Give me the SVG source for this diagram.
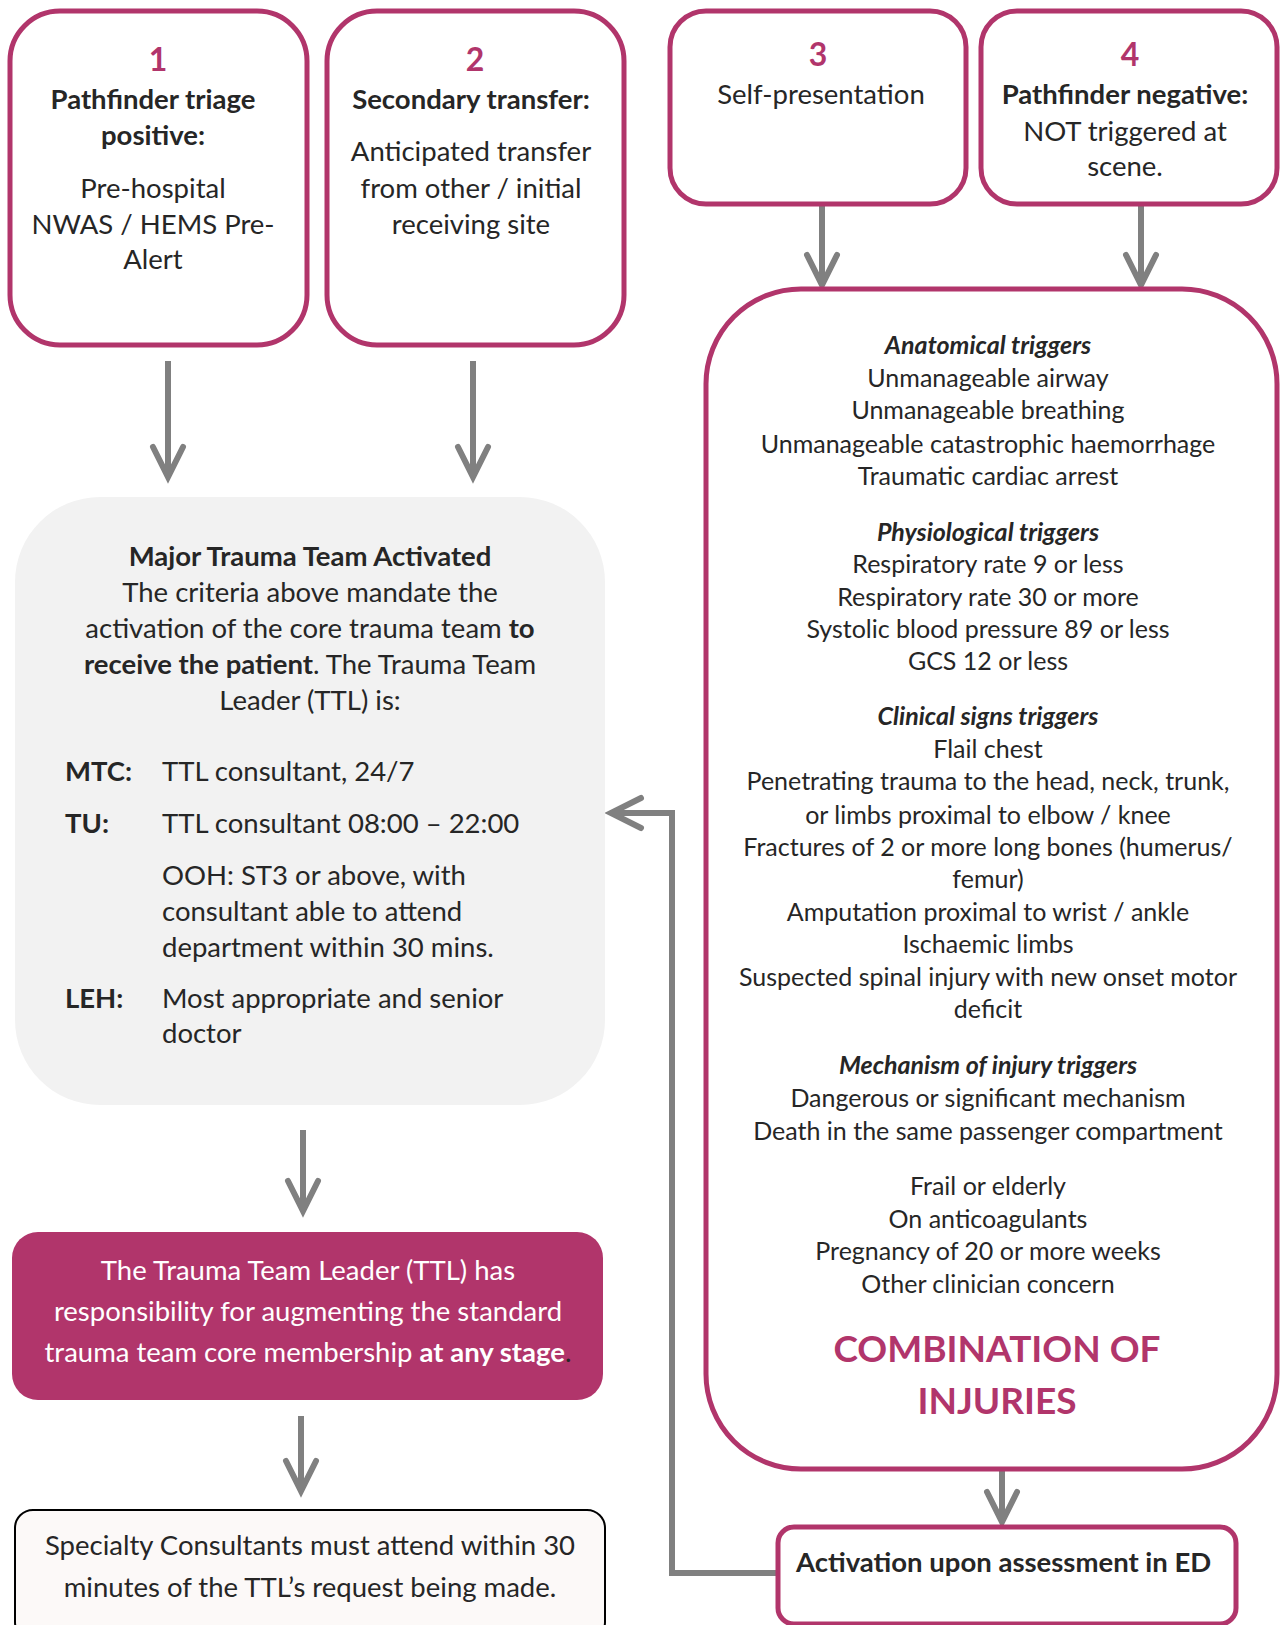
<svg xmlns="http://www.w3.org/2000/svg" width="1282" height="1625" viewBox="0 0 1282 1625">
<style>
text{font-family:Lato,"Liberation Sans",sans-serif;fill:#262626;font-size:27.5px;}
.c{text-anchor:middle;}
.b{font-weight:bold;}
.bi{font-weight:bold;font-style:italic;}
.t{font-size:25px;}
.num{font-size:32px;font-weight:bold;fill:#B1356B;}
.mag{fill:#fff;stroke:#B1356B;stroke-width:5;}
.conn{fill:none;stroke:#808080;stroke-width:6;}
.w{fill:#fff;}
.big{font-size:37px;font-weight:bold;fill:#B1356B;}
</style>
<defs>
<marker id="chev" markerUnits="userSpaceOnUse" viewBox="-40 -25 50 50" markerWidth="50" markerHeight="50" refX="0" refY="0" orient="auto" overflow="visible">
<path d="M-30,-15 L0,0 L-30,15" fill="none" stroke="#808080" stroke-width="6" stroke-linecap="round" stroke-linejoin="miter"/>
</marker>
</defs>

<g id="connectors">
<path class="conn" d="M168,361 V477" marker-end="url(#chev)"/>
<path class="conn" d="M473,361 V477" marker-end="url(#chev)"/>
<path class="conn" d="M822,204 V285" marker-end="url(#chev)"/>
<path class="conn" d="M1141,204 V285" marker-end="url(#chev)"/>
<path class="conn" d="M1002,1470 V1522" marker-end="url(#chev)"/>
<path class="conn" d="M303,1130 V1211" marker-end="url(#chev)"/>
<path class="conn" d="M301,1416 V1491" marker-end="url(#chev)"/>
<path class="conn" d="M777,1573 H672 V813 H611" marker-end="url(#chev)"/>
</g>

<g id="node1">
<rect class="mag" x="10" y="11" width="297" height="334" rx="50"/>
<text class="num c" x="158" y="71">1</text>
<text class="b c" x="153" y="109">Pathfinder triage</text>
<text class="b c" x="153" y="145">positive:</text>
<text class="c" x="153" y="198">Pre-hospital</text>
<text class="c" x="153" y="234">NWAS / HEMS Pre-</text>
<text class="c" x="153" y="269">Alert</text>
</g>

<g id="node2">
<rect class="mag" x="327" y="11" width="297" height="334" rx="50"/>
<text class="num c" x="475" y="71">2</text>
<text class="b c" x="471" y="109">Secondary transfer:</text>
<text class="c" x="471" y="161">Anticipated transfer</text>
<text class="c" x="471" y="198">from other / initial</text>
<text class="c" x="471" y="234">receiving site</text>
</g>

<g id="node3">
<rect class="mag" x="670" y="11" width="296" height="193" rx="36"/>
<text class="num c" x="818" y="66">3</text>
<text class="c" x="821" y="104">Self-presentation</text>
</g>

<g id="node4">
<rect class="mag" x="981" y="11" width="296" height="193" rx="36"/>
<text class="num c" x="1130" y="66">4</text>
<text class="b c" x="1125" y="104">Pathfinder negative:</text>
<text class="c" x="1125" y="141">NOT triggered at</text>
<text class="c" x="1125" y="176">scene.</text>
</g>

<g id="triggers">
<rect class="mag" x="706" y="289" width="571" height="1180" rx="95"/>
<text class="t bi c" x="988" y="354">Anatomical triggers</text>
<text class="t c" x="988" y="387">Unmanageable airway</text>
<text class="t c" x="988" y="419">Unmanageable breathing</text>
<text class="t c" x="988" y="453">Unmanageable catastrophic haemorrhage</text>
<text class="t c" x="988" y="485">Traumatic cardiac arrest</text>
<text class="t bi c" x="988" y="541">Physiological triggers</text>
<text class="t c" x="988" y="573">Respiratory rate 9 or less</text>
<text class="t c" x="988" y="606">Respiratory rate 30 or more</text>
<text class="t c" x="988" y="638">Systolic blood pressure 89 or less</text>
<text class="t c" x="988" y="670">GCS 12 or less</text>
<text class="t bi c" x="988" y="725">Clinical signs triggers</text>
<text class="t c" x="988" y="758">Flail chest</text>
<text class="t c" x="988" y="790">Penetrating trauma to the head, neck, trunk,</text>
<text class="t c" x="988" y="824">or limbs proximal to elbow / knee</text>
<text class="t c" x="988" y="856">Fractures of 2 or more long bones (humerus/</text>
<text class="t c" x="988" y="888">femur)</text>
<text class="t c" x="988" y="921">Amputation proximal to wrist / ankle</text>
<text class="t c" x="988" y="953">Ischaemic limbs</text>
<text class="t c" x="988" y="986">Suspected spinal injury with new onset motor</text>
<text class="t c" x="988" y="1018">deficit</text>
<text class="t bi c" x="988" y="1074">Mechanism of injury triggers</text>
<text class="t c" x="988" y="1107">Dangerous or significant mechanism</text>
<text class="t c" x="988" y="1140">Death in the same passenger compartment</text>
<text class="t c" x="988" y="1195">Frail or elderly</text>
<text class="t c" x="988" y="1228">On anticoagulants</text>
<text class="t c" x="988" y="1260">Pregnancy of 20 or more weeks</text>
<text class="t c" x="988" y="1293">Other clinician concern</text>
<text class="big c" x="997" y="1362">COMBINATION OF</text>
<text class="big c" x="997" y="1414">INJURIES</text>
</g>

<g id="activated">
<rect x="15" y="497" width="590" height="608" rx="85" fill="#F2F2F2"/>
<text class="b c" x="310" y="566">Major Trauma Team Activated</text>
<text class="c" x="310" y="602">The criteria above mandate the</text>
<text class="c" x="310" y="638">activation of the core trauma team <tspan class="b">to</tspan></text>
<text class="c" x="310" y="674"><tspan class="b">receive the patient</tspan>. The Trauma Team</text>
<text class="c" x="310" y="710">Leader (TTL) is:</text>
<text class="b" x="65" y="781">MTC:</text>
<text x="162" y="781">TTL consultant, 24/7</text>
<text class="b" x="65" y="833">TU:</text>
<text x="162" y="833">TTL consultant 08:00 – 22:00</text>
<text x="162" y="885">OOH: ST3 or above, with</text>
<text x="162" y="921">consultant able to attend</text>
<text x="162" y="957">department within 30 mins.</text>
<text class="b" x="65" y="1008">LEH:</text>
<text x="162" y="1008">Most appropriate and senior</text>
<text x="162" y="1043">doctor</text>
</g>

<g id="ttl">
<rect x="12" y="1232" width="591" height="168" rx="26" fill="#B1356B"/>
<text class="c w" x="308" y="1280">The Trauma Team Leader (TTL) has</text>
<text class="c w" x="308" y="1321">responsibility for augmenting the standard</text>
<text class="c" x="308" y="1362"><tspan class="w">trauma team core membership </tspan><tspan class="w b">at any stage</tspan>.</text>
</g>

<g id="specialty">
<rect x="15" y="1510" width="590" height="130" rx="18" fill="#FCF9F8" stroke="#000" stroke-width="2"/>
<text class="c" x="310" y="1555">Specialty Consultants must attend within 30</text>
<text class="c" x="310" y="1597">minutes of the TTL’s request being made.</text>
</g>

<g id="activation">
<rect class="mag" x="778" y="1527" width="458" height="97" rx="16"/>
<text class="b" x="796" y="1572">Activation upon assessment in ED</text>
</g>
</svg>
